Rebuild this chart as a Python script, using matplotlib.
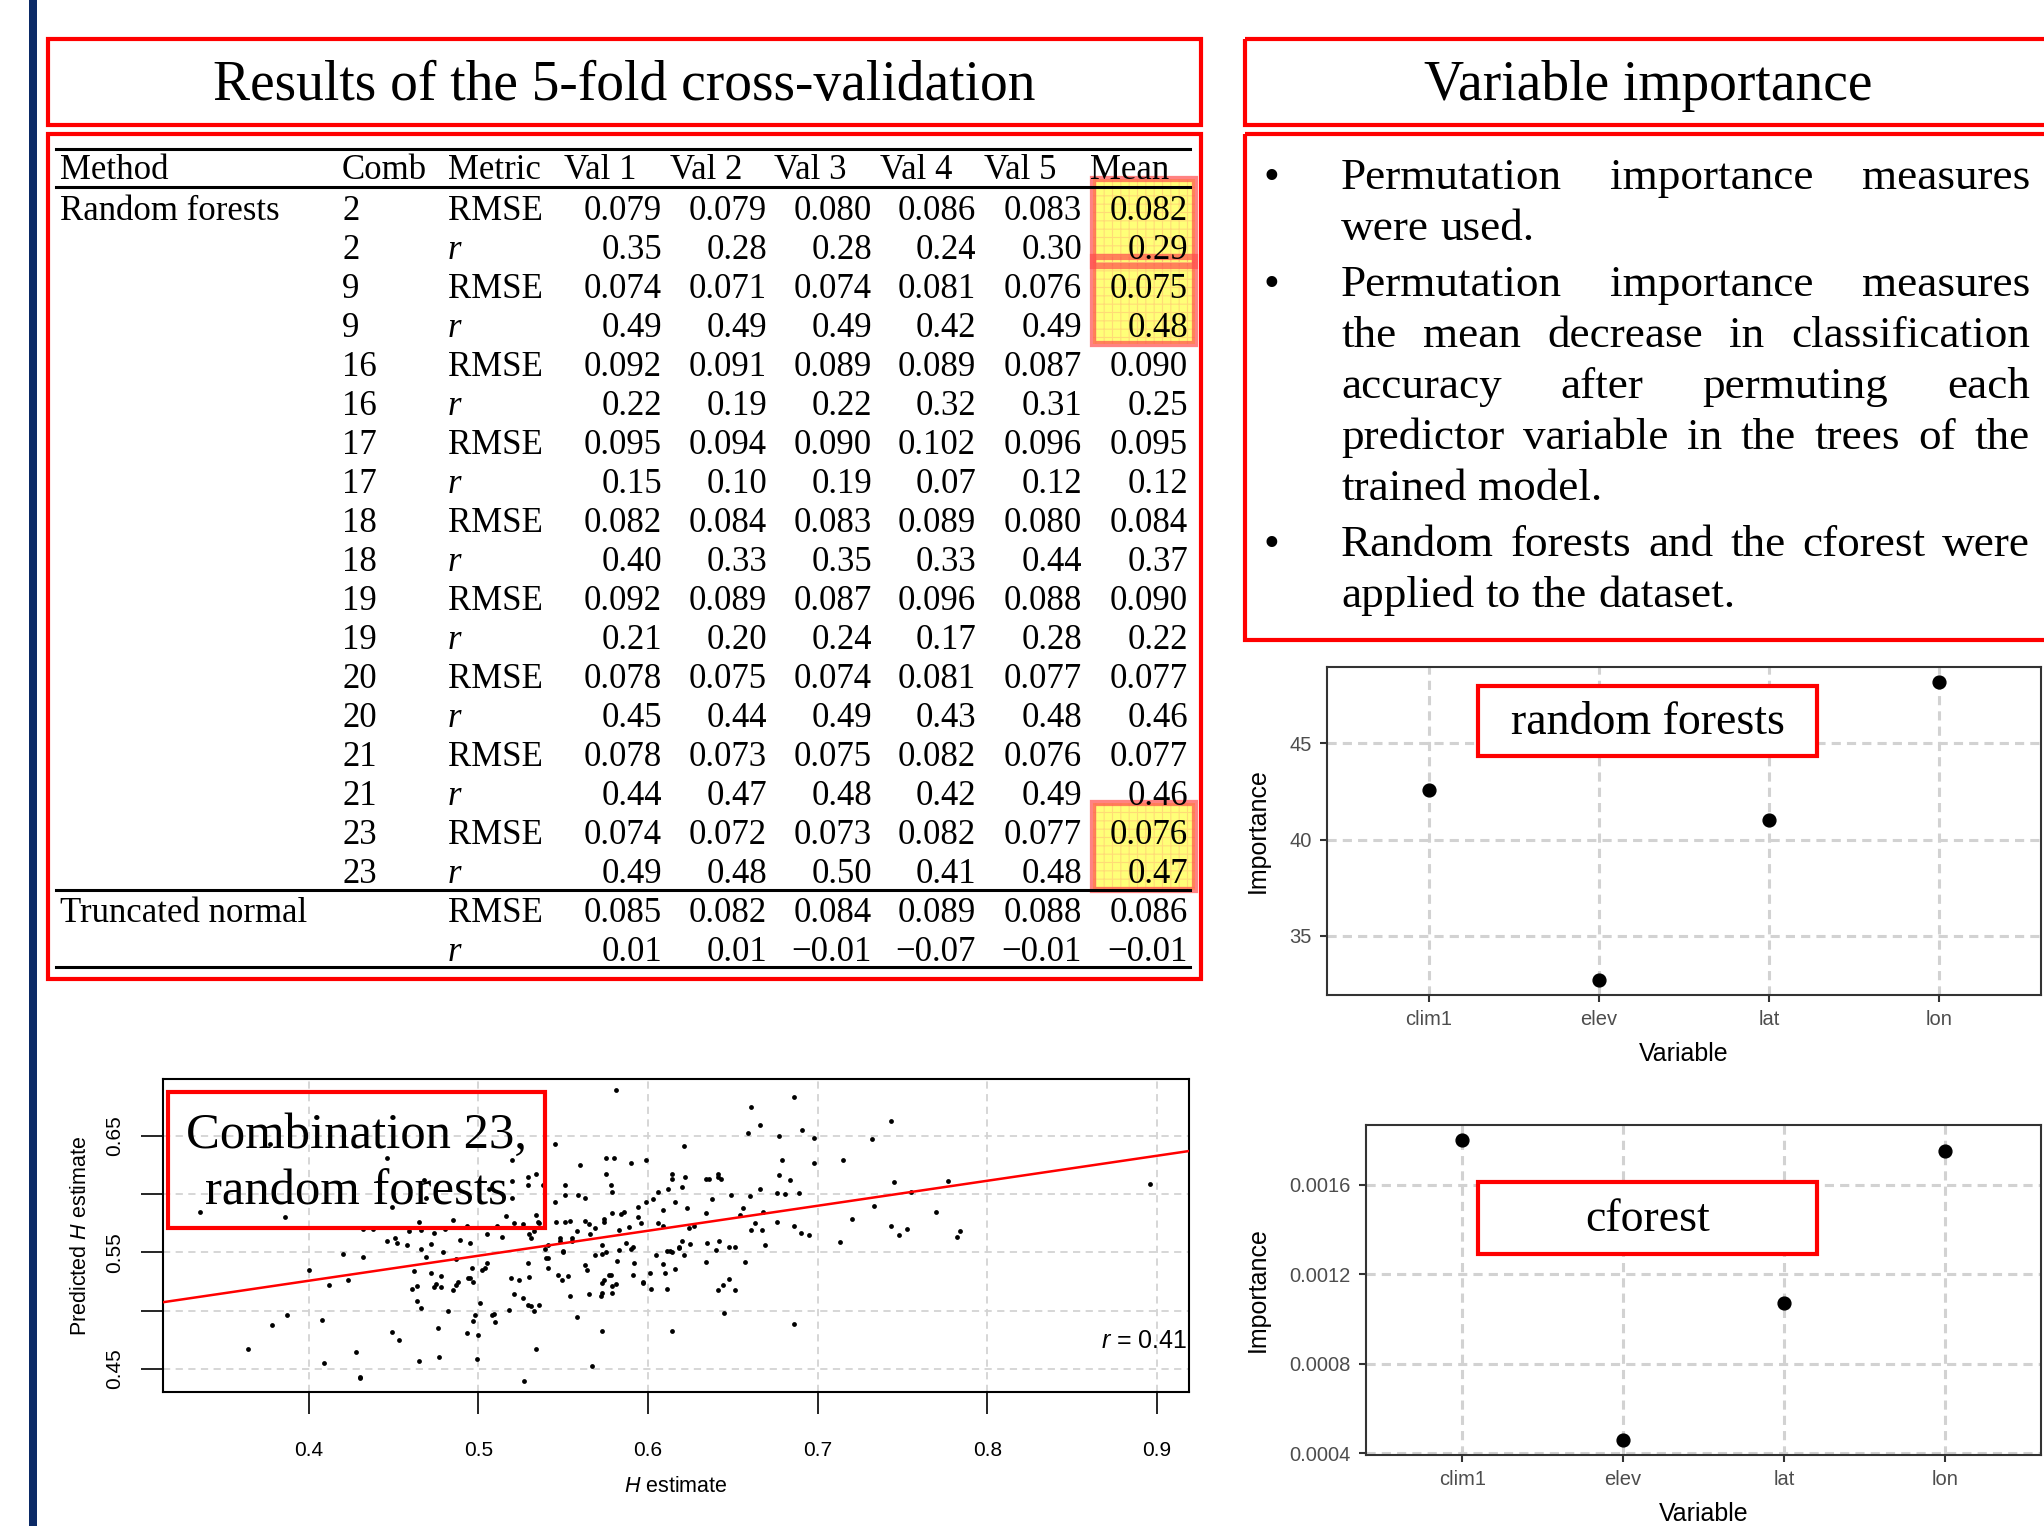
import numpy as np
import matplotlib.pyplot as plt
from matplotlib.patches import Rectangle

# ------------------------ page size (pixels, dpi 100) ------------------------
W, H = 2044, 1526
SERIF = 'Liberation Serif'
SANS = 'Liberation Sans'

plt.rcParams['mathtext.fontset'] = 'custom'
plt.rcParams['mathtext.rm'] = SANS
plt.rcParams['mathtext.it'] = SANS + ':italic'
plt.rcParams['hatch.linewidth'] = 0.8

# ------------------------ table data ------------------------
combs = [2, 9, 16, 17, 18, 19, 20, 21, 23]
val_cols = ['Val 1', 'Val 2', 'Val 3', 'Val 4', 'Val 5', 'Mean']
rf_rmse = [
    [0.079, 0.079, 0.080, 0.086, 0.083, 0.082],
    [0.074, 0.071, 0.074, 0.081, 0.076, 0.075],
    [0.092, 0.091, 0.089, 0.089, 0.087, 0.090],
    [0.095, 0.094, 0.090, 0.102, 0.096, 0.095],
    [0.082, 0.084, 0.083, 0.089, 0.080, 0.084],
    [0.092, 0.089, 0.087, 0.096, 0.088, 0.090],
    [0.078, 0.075, 0.074, 0.081, 0.077, 0.077],
    [0.078, 0.073, 0.075, 0.082, 0.076, 0.077],
    [0.074, 0.072, 0.073, 0.082, 0.077, 0.076],
]
rf_r = [
    [0.35, 0.28, 0.28, 0.24, 0.30, 0.29],
    [0.49, 0.49, 0.49, 0.42, 0.49, 0.48],
    [0.22, 0.19, 0.22, 0.32, 0.31, 0.25],
    [0.15, 0.10, 0.19, 0.07, 0.12, 0.12],
    [0.40, 0.33, 0.35, 0.33, 0.44, 0.37],
    [0.21, 0.20, 0.24, 0.17, 0.28, 0.22],
    [0.45, 0.44, 0.49, 0.43, 0.48, 0.46],
    [0.44, 0.47, 0.48, 0.42, 0.49, 0.46],
    [0.49, 0.48, 0.50, 0.41, 0.48, 0.47],
]
tn_rmse = [0.085, 0.082, 0.084, 0.089, 0.088, 0.086]
tn_r = [0.01, 0.01, -0.01, -0.07, -0.01, -0.01]
highlight_combs = [2, 9, 23]

# ------------------------ variable importance ------------------------
variables = ['clim1', 'elev', 'lat', 'lon']
rf_importance = [42.6, 32.7, 41.0, 48.2]
cf_importance = [0.00180, 0.00046, 0.00107, 0.00175]

bullets = [
    ['Permutation importance measures', 'were used.'],
    ['Permutation importance measures', 'the mean decrease in classification',
     'accuracy after permuting each', 'predictor variable in the trees of the',
     'trained model.'],
    ['Random forests and the cforest were', 'applied to the dataset.'],
]

# ------------------------ scatter: H estimate vs predicted ------------------------
h_est = [0.336, 0.386, 0.446, 0.377, 0.400, 0.420, 0.432, 0.412, 0.423, 0.387, 0.378, 0.408,
         0.364, 0.409, 0.428, 0.430, 0.430, 0.449, 0.453, 0.465, 0.461, 0.464, 0.462, 0.464,
         0.466, 0.469, 0.466, 0.458, 0.452, 0.451, 0.446, 0.459, 0.465, 0.466, 0.432, 0.438,
         0.449, 0.468, 0.469,
         0.581, 0.545, 0.520, 0.560, 0.575, 0.580, 0.590, 0.575, 0.578, 0.579, 0.529, 0.534,
         0.529, 0.520, 0.538, 0.551, 0.551, 0.559, 0.563, 0.545, 0.520, 0.506, 0.516, 0.485,
         0.480, 0.493, 0.474, 0.511, 0.521, 0.526, 0.534, 0.535, 0.536, 0.530, 0.533, 0.514,
         0.505, 0.489, 0.495, 0.472, 0.479, 0.487, 0.531, 0.539, 0.540, 0.541, 0.541, 0.541,
         0.546, 0.551, 0.554, 0.548, 0.548, 0.555, 0.555, 0.558, 0.550, 0.550, 0.563, 0.565,
         0.569, 0.566, 0.574, 0.574, 0.579, 0.584, 0.586, 0.594, 0.594, 0.583, 0.589, 0.587,
         0.583, 0.590, 0.591, 0.573, 0.573, 0.575, 0.569, 0.582, 0.592, 0.591, 0.563, 0.564,
         0.529, 0.519, 0.524, 0.530, 0.547, 0.553, 0.549, 0.502, 0.504, 0.505, 0.496, 0.494,
         0.495, 0.497, 0.488, 0.487, 0.485, 0.478, 0.475, 0.474, 0.478, 0.472, 0.501, 0.482,
         0.509, 0.508, 0.510, 0.498, 0.497, 0.493, 0.500, 0.476, 0.477, 0.499, 0.518, 0.521,
         0.526, 0.529, 0.531, 0.533, 0.536, 0.534, 0.527, 0.554, 0.558, 0.565, 0.572, 0.573,
         0.579, 0.573, 0.574, 0.577, 0.578, 0.579, 0.581, 0.573, 0.567,
         0.686, 0.661, 0.666, 0.659, 0.691, 0.677, 0.698, 0.621, 0.599, 0.679, 0.698, 0.715,
         0.614, 0.614, 0.622, 0.634, 0.636, 0.641, 0.641, 0.643, 0.612, 0.620, 0.606, 0.603,
         0.599, 0.616, 0.623, 0.609, 0.638, 0.649, 0.660, 0.666, 0.677, 0.684, 0.676, 0.681,
         0.689, 0.656, 0.668, 0.654, 0.634, 0.596, 0.606, 0.609, 0.627, 0.624, 0.663, 0.661,
         0.667, 0.676, 0.686, 0.690, 0.695, 0.620, 0.618, 0.618, 0.625, 0.635, 0.642, 0.640,
         0.648, 0.651, 0.669, 0.713, 0.611, 0.613, 0.614, 0.621, 0.605, 0.609, 0.616, 0.610,
         0.601, 0.634, 0.657, 0.597, 0.597, 0.602, 0.611, 0.641, 0.644, 0.648, 0.651, 0.645,
         0.614, 0.686,
         0.743, 0.732, 0.745, 0.777, 0.755, 0.733, 0.720, 0.770, 0.743, 0.748, 0.753, 0.782,
         0.784, 0.896]
h_pred = [0.585, 0.580, 0.631, 0.643, 0.535, 0.549, 0.546, 0.522, 0.526, 0.496, 0.488, 0.492,
          0.467, 0.455, 0.465, 0.443, 0.442, 0.482, 0.475, 0.457, 0.519, 0.521, 0.534, 0.508,
          0.502, 0.546, 0.553, 0.556, 0.558, 0.562, 0.560, 0.568, 0.576, 0.569, 0.570, 0.570,
          0.589, 0.612, 0.597,
          0.689, 0.643, 0.629, 0.625, 0.631, 0.631, 0.627, 0.617, 0.608, 0.602, 0.615, 0.617,
          0.608, 0.611, 0.608, 0.608, 0.599, 0.599, 0.597, 0.593, 0.597, 0.604, 0.581, 0.578,
          0.570, 0.573, 0.567, 0.573, 0.575, 0.574, 0.582, 0.576, 0.575, 0.566, 0.568, 0.563,
          0.566, 0.561, 0.558, 0.557, 0.550, 0.544, 0.562, 0.553, 0.545, 0.545, 0.537, 0.556,
          0.576, 0.576, 0.577, 0.562, 0.560, 0.562, 0.560, 0.568, 0.551, 0.550, 0.577, 0.574,
          0.571, 0.566, 0.579, 0.576, 0.584, 0.583, 0.585, 0.589, 0.580, 0.569, 0.572, 0.558,
          0.552, 0.553, 0.555, 0.556, 0.549, 0.550, 0.548, 0.543, 0.541, 0.531, 0.539, 0.535,
          0.541, 0.528, 0.526, 0.529, 0.531, 0.530, 0.526, 0.535, 0.537, 0.541, 0.537, 0.528,
          0.528, 0.525, 0.525, 0.522, 0.518, 0.530, 0.523, 0.520, 0.520, 0.532, 0.507, 0.500,
          0.497, 0.496, 0.490, 0.496, 0.491, 0.481, 0.479, 0.485, 0.460, 0.459, 0.501, 0.514,
          0.511, 0.505, 0.504, 0.500, 0.505, 0.467, 0.440, 0.513, 0.495, 0.514, 0.513, 0.515,
          0.515, 0.524, 0.526, 0.531, 0.531, 0.521, 0.523, 0.483, 0.453,
          0.683, 0.675, 0.659, 0.652, 0.655, 0.650, 0.648, 0.641, 0.629, 0.629, 0.627, 0.629,
          0.617, 0.613, 0.615, 0.613, 0.613, 0.617, 0.615, 0.613, 0.604, 0.606, 0.602, 0.596,
          0.593, 0.593, 0.588, 0.586, 0.596, 0.599, 0.598, 0.604, 0.616, 0.612, 0.601, 0.600,
          0.601, 0.588, 0.585, 0.582, 0.584, 0.575, 0.575, 0.573, 0.573, 0.571, 0.575, 0.569,
          0.569, 0.576, 0.573, 0.567, 0.565, 0.560, 0.555, 0.554, 0.557, 0.558, 0.560, 0.552,
          0.555, 0.555, 0.556, 0.559, 0.551, 0.551, 0.550, 0.548, 0.548, 0.540, 0.536, 0.532,
          0.532, 0.542, 0.542, 0.525, 0.524, 0.519, 0.519, 0.518, 0.522, 0.527, 0.518, 0.498,
          0.483, 0.489,
          0.663, 0.647, 0.610, 0.611, 0.602, 0.590, 0.579, 0.585, 0.573, 0.565, 0.570, 0.563,
          0.568, 0.609]
fit_intercept, fit_slope = 0.440, 0.2142
r_value = 0.41


def rect(l, t, r, b):
    # pixel box -> figure fraction [left, bottom, width, height]
    return [l / W, 1 - b / H, (r - l) / W, (b - t) / H]


fig = plt.figure(figsize=(W / 100, H / 100), dpi=100)
fig.patch.set_facecolor('white')

# ------------------------ importance plots (ggplot look) ------------------------
def importance_plot(box, values, fmt):
    ax = fig.add_axes(rect(*box))
    pos = np.arange(1, len(variables) + 1)
    ax.scatter(pos, values, s=85, color='black', zorder=3)
    lo, hi = min(values), max(values)
    pad = 0.05 * (hi - lo)
    ax.set_xlim(0.4, len(variables) + 0.6)
    ax.set_ylim(lo - pad, hi + pad)
    ax.set_xticks(pos)
    ax.set_xticklabels(variables)
    ax.yaxis.set_major_formatter(plt.FuncFormatter(lambda v, p: fmt.format(v)))
    ax.grid(True, ls=(0, (3, 2)), color='#d2d2d2', lw=2.2)
    ax.set_axisbelow(True)
    for s in ax.spines.values():
        s.set_color('#333333')
        s.set_linewidth(1.5)
    ax.tick_params(direction='out', length=5, width=1.5, color='#333333',
                   labelcolor='#4d4d4d', labelsize=14.5, pad=6)
    for lab in ax.get_xticklabels() + ax.get_yticklabels():
        lab.set_family(SANS)
    ax.set_xlabel('Variable', fontsize=18, family=SANS, labelpad=9)
    ax.set_ylabel('Importance', fontsize=18, family=SANS, labelpad=14)
    return ax


ax1 = importance_plot((1327, 667, 2041, 995), rf_importance, '{:.0f}')
ax1.set_yticks([35, 40, 45])
ax2 = importance_plot((1366, 1125, 2041, 1455), cf_importance, '{:.4f}')
ax2.set_yticks([0.0004, 0.0008, 0.0012, 0.0016])

# ------------------------ scatter plot (R base look) ------------------------
ax3 = fig.add_axes(rect(163, 1079, 1189, 1392))
ax3.scatter(h_est, h_pred, s=12, color='black', lw=0, zorder=3)
ax3.set_xlim(0.314, 0.919)
ax3.set_ylim(0.4303, 0.6986)
xs = np.array(ax3.get_xlim())
ax3.plot(xs, fit_intercept + fit_slope * xs, color='red', lw=1.8, zorder=4)
ax3.set_xticks([0.4, 0.5, 0.6, 0.7, 0.8, 0.9])
ax3.set_yticks([0.45, 0.50, 0.55, 0.60, 0.65])
ax3.set_yticklabels(['0.45', '', '0.55', '', '0.65'], rotation=90, va='center')
ax3.grid(True, ls=(0, (4, 3)), color='#d3d3d3', lw=1.3)
ax3.set_axisbelow(True)
for s in ax3.spines.values():
    s.set_linewidth(1.5)
ax3.tick_params(direction='out', length=16, width=1.2, labelsize=15)
ax3.tick_params(axis='x', pad=19)
ax3.tick_params(axis='y', pad=12)
for lab in ax3.get_xticklabels() + ax3.get_yticklabels():
    lab.set_family(SANS)
ax3.set_xlabel('$H$ estimate', fontsize=15.5, family=SANS, labelpad=12)
ax3.set_ylabel('Predicted $H$ estimate', fontsize=15.5, family=SANS, labelpad=10)
ax3.text(0.998, 0.163, f'$r$ = {r_value:.2f}', transform=ax3.transAxes,
         ha='right', va='center', fontsize=18, family=SANS, zorder=5)

# ------------------------ page canvas (pixel coordinates) ------------------------
cv = fig.add_axes([0, 0, 1, 1])
cv.set_xlim(0, W)
cv.set_ylim(H, 0)
cv.axis('off')
cv.set_zorder(5)


def box(l, t, r, b, **kw):
    cv.add_patch(Rectangle((l, t), r - l, b - t, clip_on=False, **kw))


# navy bar on the left
box(29, -5, 37, H + 5, color='#0b2a66', lw=0)

# title boxes
box(48, 39, 1201, 125, fill=False, ec='red', lw=3)
cv.text(624, 100, 'Results of the 5-fold cross-validation', fontsize=40,
        family=SERIF, ha='center', va='baseline')
box(1245, 39, 2070, 125, fill=False, ec='red', lw=3)
cv.text(1648, 100, 'Variable importance', fontsize=40,
        family=SERIF, ha='center', va='baseline')

# ------------------------ table ------------------------
box(48, 134, 1201, 979, fill=False, ec='red', lw=3)
FS = 25
row_y0, row_dy = 209, 39.0
x_method, x_comb, x_metric = 60, 342, 448
x_vals = [662, 767, 872, 976, 1082, 1188]
x_heads = [564, 670, 774, 880, 984, 1090]

rows = []
for i, c in enumerate(combs):
    rows.append(('Random forests' if i == 0 else '', str(c), 'RMSE', rf_rmse[i], 3))
    rows.append(('', str(c), 'r', rf_r[i], 2))
rows.append(('Truncated normal', '', 'RMSE', tn_rmse, 3))
rows.append(('', '', 'r', tn_r, 2))


def fmt(v, d):
    s = f'{abs(v):.{d}f}'
    return ('\u2212' + s) if v < 0 else s


def row_c(i):
    return row_y0 + row_dy * i


# highlighted mean cells
for c in highlight_combs:
    k = combs.index(c)
    t, b = row_c(2 * k) - 30, row_c(2 * k + 1) + 18
    box(1093, t, 1195, b, fc='#ffff78', ec='none', lw=0, zorder=1)
    box(1093, t, 1195, b, fill=False, hatch='++', ec=(1, 0.45, 0.45, 0.25), lw=0, zorder=1.5)
    box(1093, t, 1195, b, fill=False, ec=(1, 0.3, 0.3, 0.7), lw=4.5, zorder=2)

hy = 179
for lab, x in zip(['Method', 'Comb', 'Metric'], [x_method, x_comb, x_metric]):
    cv.text(x, hy, lab, fontsize=FS, family=SERIF, va='baseline', ha='left')
for lab, x in zip(val_cols, x_heads):
    cv.text(x, hy, lab, fontsize=FS, family=SERIF, va='baseline', ha='left')

for i, (meth, comb, metric, vals, d) in enumerate(rows):
    yb = row_c(i) + 11
    cv.text(x_method, yb, meth, fontsize=FS, family=SERIF, va='baseline')
    cv.text(x_comb, yb, comb, fontsize=FS, family=SERIF, va='baseline')
    cv.text(x_metric, yb, metric, fontsize=FS, family=SERIF, va='baseline',
            style='italic' if metric == 'r' else 'normal')
    for v, x in zip(vals, x_vals):
        cv.text(x, yb, fmt(v, d), fontsize=FS, family=SERIF, va='baseline',
                ha='right', zorder=3)

for y in [149, 187, 890, 967]:
    cv.plot([56, 1190], [y, y], color='black', lw=2.2)

# ------------------------ bullet list (justified) ------------------------
box(1245, 134, 2070, 640, fill=False, ec='red', lw=3)
BFS = 32.5
rend = fig.canvas.get_renderer()


def text_w(s):
    t = cv.text(0, 0, s, fontsize=BFS, family=SERIF)
    w = t.get_window_extent(renderer=rend).width
    t.remove()
    return w


space_w = text_w('x x') - text_w('xx')
left, right = 1341, 2030
y = 189
for para in bullets:
    cv.text(1271, y, '\u2022', fontsize=BFS, family=SERIF, ha='center', va='baseline')
    for j, line in enumerate(para):
        words = line.split()
        widths = [text_w(w) for w in words]
        last = j == len(para) - 1
        gap = space_w if last else (right - left - sum(widths)) / (len(words) - 1)
        x = left
        for w, wd in zip(words, widths):
            cv.text(x, y, w, fontsize=BFS, family=SERIF, ha='left', va='baseline')
            x += wd + gap
        y += 51
    y += 5

# ------------------------ label boxes on plots ------------------------
box(1478, 686, 1817, 756, fc='white', ec='red', lw=3)
cv.text(1648, 723, 'random forests', fontsize=33, family=SERIF, ha='center', va='center')
box(1478, 1182, 1817, 1254, fc='white', ec='red', lw=3)
cv.text(1648, 1220, 'cforest', fontsize=33, family=SERIF, ha='center', va='center')
box(168, 1092, 545, 1228, fill=False, ec='red', lw=3)
cv.text(356, 1136, 'Combination 23,', fontsize=36.5, family=SERIF, ha='center', va='center')
cv.text(356, 1192, 'random forests', fontsize=36.5, family=SERIF, ha='center', va='center')

fig.savefig('out.png', dpi=100)
